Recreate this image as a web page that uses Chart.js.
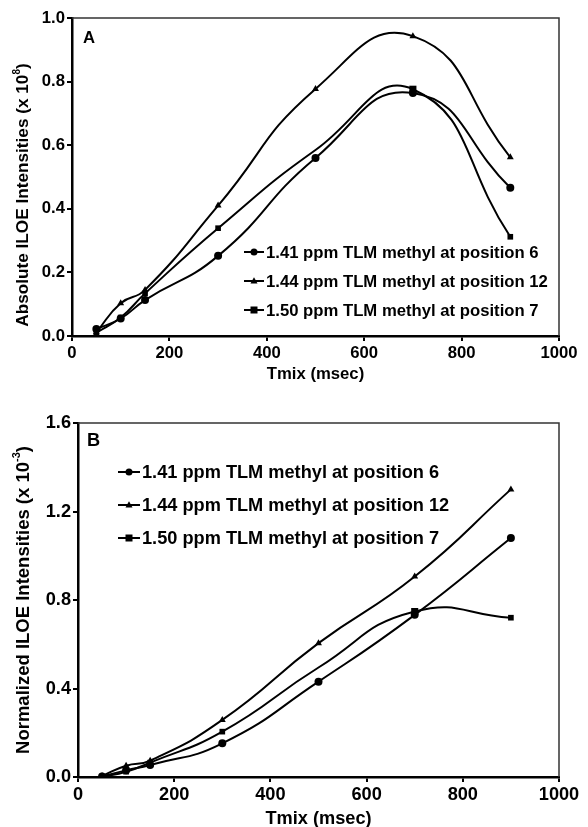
<!DOCTYPE html>
<html>
<head>
<meta charset="utf-8">
<script src="https://cdn.jsdelivr.net/npm/chart.js@4/dist/chart.umd.min.js"></script>
<style>
  body { margin: 0; background: #fff; }
  canvas { display: block; }
</style>
</head>
<body>
<canvas id="chartA" width="588" height="400"></canvas>
<canvas id="chartB" width="588" height="427"></canvas>
<script>
// mixing times (msec)
var tmix = [50, 100, 150, 300, 500, 700, 900];

// panel A: absolute ILOE intensities (x 10^8)
var absPos6  = [0.022, 0.055, 0.113, 0.252, 0.560, 0.764, 0.466];
var absPos12 = [0.012, 0.103, 0.145, 0.410, 0.777, 0.943, 0.562];
var absPos7  = [0.010, 0.058, 0.134, 0.339, 0.585, 0.776, 0.312];

// panel B: normalized ILOE intensities (x 10^-3)
var normPos6  = [0.002, 0.030, 0.054, 0.152, 0.431, 0.733, 1.080];
var normPos12 = [0.005, 0.051, 0.074, 0.258, 0.605, 0.906, 1.300];
var normPos7  = [0.000, 0.024, 0.065, 0.205, 0.495, 0.748, 0.720];

var labels = [
    '1.41 ppm TLM methyl at position 6',
    '1.44 ppm TLM methyl at position 12',
    '1.50 ppm TLM methyl at position 7'
];
var styles = ['circle', 'triangle', 'rect'];

var FONT = '"Liberation Sans", Arial, sans-serif';

function toPoints(ys){
    var pts = [];
    for (let i = 0; i < tmix.length; i++) {
        pts.push({x: tmix[i], y: ys[i]});
    }
    return pts;
}

function drawMarker(ctx, style, x, y, r){
    ctx.beginPath();
    if (style == 'circle') {
        ctx.arc(x, y, r, 0, Math.PI * 2);
    } else if (style == 'triangle') {
        ctx.moveTo(x, y - r * 1.1);
        ctx.lineTo(x + r, y + r * 0.7);
        ctx.lineTo(x - r, y + r * 0.7);
        ctx.closePath();
    } else {
        ctx.rect(x - r, y - r, r * 2, r * 2);
    }
    ctx.fill();
}

// legend, panel letter, axis titles and frame
var decor = {
    id: 'decor',
    afterDraw: function(chart, args, opts){
        var ctx = chart.ctx;
        var area = chart.chartArea;
        var fs = opts.fontSize;
        var bold = function(size){ return 'bold ' + size + 'px ' + FONT; };
        ctx.save();

        // top / right frame
        ctx.strokeStyle = '#333';
        ctx.lineWidth = 1.5;
        ctx.beginPath();
        ctx.moveTo(area.left, area.top);
        ctx.lineTo(area.right, area.top);
        ctx.lineTo(area.right, area.bottom);
        ctx.stroke();

        ctx.fillStyle = '#000';
        ctx.font = bold(fs);
        ctx.textBaseline = 'alphabetic';
        ctx.textAlign = 'left';
        ctx.fillText(opts.letter, opts.letterX, opts.letterY);

        // legend
        chart.data.datasets.forEach(function(ds, i){
            var y = opts.legY + i * opts.legGap;
            ctx.strokeStyle = '#000';
            ctx.lineWidth = 2;
            ctx.beginPath();
            ctx.moveTo(opts.legX, y);
            ctx.lineTo(opts.legX + opts.legLen, y);
            ctx.stroke();
            drawMarker(ctx, ds.pointStyle, opts.legX + opts.legLen / 2, y, 3.5);
            ctx.textBaseline = 'middle';
            ctx.fillText(ds.label, opts.legX + opts.legLen + 2, y + 1);
        });

        // x title
        ctx.textAlign = 'center';
        ctx.textBaseline = 'alphabetic';
        ctx.fillText('Tmix (msec)', (area.left + area.right) / 2, opts.xTitleY);

        // y title with superscript
        var tfs = opts.titleSize;
        var sfs = Math.round(tfs * 0.6);
        ctx.translate(opts.yTitleX, opts.yTitleY);
        ctx.rotate(-Math.PI / 2);
        ctx.font = bold(sfs);
        var supW = ctx.measureText(opts.yTitleSup).width;
        ctx.font = bold(tfs);
        var mainW = ctx.measureText(opts.yTitle).width;
        var closeW = ctx.measureText(')').width;
        var x0 = -(mainW + supW + closeW) / 2;
        ctx.textAlign = 'left';
        ctx.fillText(opts.yTitle, x0, tfs * 0.36);
        ctx.font = bold(sfs);
        ctx.fillText(opts.yTitleSup, x0 + mainW, -tfs * 0.1);
        ctx.font = bold(tfs);
        ctx.fillText(')', x0 + mainW + supW, tfs * 0.36);

        ctx.restore();
    }
};

function makeDatasets(a, b, c){
    var series = [a, b, c];
    return series.map(function(s, i){
        return {
            label: labels[i],
            data: toPoints(s),
            borderColor: '#000',
            backgroundColor: '#000',
            borderWidth: 2,
            pointStyle: styles[i],
            pointRadius: i == 2 ? [4, 4, 4, 4, 0, 5, 4] : 4,
            pointBorderWidth: 0,
            tension: 0.5,
            fill: false
        };
    });
}

function makeOptions(yMax, yStep, yWidth, xHeight, padTop, fs, decorOpts){
    var tickFont = {family: FONT, size: fs, weight: 'bold'};
    decorOpts.fontSize = fs;
    return {
        responsive: false,
        animation: false,
        layout: {padding: {top: padTop, right: 29, left: 0, bottom: 0}},
        plugins: {
            legend: {display: false},
            tooltip: {enabled: false},
            decor: decorOpts
        },
        scales: {
            x: {
                type: 'linear',
                min: 0,
                max: 1000,
                ticks: {stepSize: 200, color: '#000', padding: 2, maxRotation: 0, font: tickFont,
                        callback: function(v){ return String(v); }},
                grid: {drawOnChartArea: false, color: '#000', tickLength: 5, lineWidth: 2},
                border: {color: '#000', width: 2.5},
                afterFit: function(s){ s.height = xHeight; }
            },
            y: {
                min: 0,
                max: yMax,
                ticks: {stepSize: yStep, color: '#000', padding: 2, font: tickFont,
                        callback: function(v){ return v.toFixed(1); }},
                grid: {drawOnChartArea: false, color: '#000', tickLength: 5, lineWidth: 2},
                border: {color: '#000', width: 2.5},
                afterFit: function(s){ s.width = yWidth; }
            }
        }
    };
}

new Chart(document.getElementById('chartA').getContext('2d'), {
    type: 'line',
    data: {datasets: makeDatasets(absPos6, absPos12, absPos7)},
    options: makeOptions(1.0, 0.2, 72, 64, 18, 16.7, {
        letter: 'A', letterX: 83, letterY: 43,
        legX: 244, legY: 252, legGap: 29, legLen: 20,
        xTitleY: 379,
        yTitle: 'Absolute ILOE Intensities (x 10', yTitleSup: '8', titleSize: 17.2,
        yTitleX: 22, yTitleY: 195
    }),
    plugins: [decor]
});

new Chart(document.getElementById('chartB').getContext('2d'), {
    type: 'line',
    data: {datasets: makeDatasets(normPos6, normPos12, normPos7)},
    options: makeOptions(1.6, 0.4, 78, 50, 23, 18.2, {
        letter: 'B', letterX: 87, letterY: 46,
        legX: 118, legY: 72, legGap: 33, legLen: 22,
        xTitleY: 424,
        yTitle: 'Normalized ILOE Intensities (x 10', yTitleSup: '-3', titleSize: 18.5,
        yTitleX: 22, yTitleY: 200
    }),
    plugins: [decor]
});
</script>
</body>
</html>
